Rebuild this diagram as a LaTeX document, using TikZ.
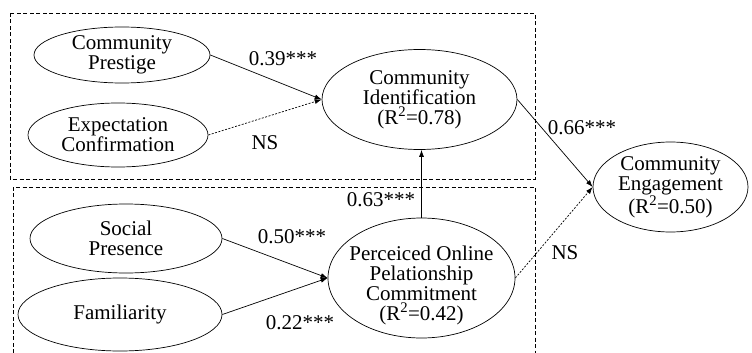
\documentclass[tikz,border=0pt]{standalone}
\usepackage{fontspec}
\setmainfont{Liberation Serif}
\usetikzlibrary{shapes.geometric}
\usetikzlibrary{arrows.meta}
\tikzset{
  construct/.style={draw, ellipse, line width=0.7pt, inner sep=0pt},
  caption/.style={align=center, inner sep=0pt, font=\fontsize{21}{20}\selectfont},
  effect/.style={line width=0.7pt, -{Latex[length=7pt,width=5pt]}},
  nseffect/.style={effect, dash pattern=on 2pt off 1.5pt},
  block/.style={line width=0.6pt, dash pattern=on 4pt off 2.5pt}
}
\newcommand{\latent}[6]{ \node[construct, minimum width=#4pt, minimum height=#5pt, label={[caption]center:{#6}}] (#1) at (#2,#3) {};}

\begin{document}
\begin{tikzpicture}[x=1pt, y=-1pt]
\useasboundingbox (0,0) rectangle (752,353);
%
\draw[block] (10,13) rectangle (535,179);
\draw[block] (13,353) -- (13,187) -- (535,187) -- (535,353);
%
\latent{cp}{122}{55}{176}{56}{Community\\Prestige}
\latent{ec}{118}{135}{180}{64}{Expectation\\Confirmation}
\latent{ci}{419.5}{99.5}{195}{100}{Community\\Identification\\(R\textsuperscript{2}=0.78)}
\latent{ce}{670.5}{187}{155}{90}{Community\\Engagement\\(R\textsuperscript{2}=0.50)}
\latent{sp}{126}{238.5}{192}{69}{Social\\Presence}
\latent{fam}{120}{314.5}{204}{73}{Familiarity}
\node[construct, minimum width=187pt, minimum height=120pt,
  label={[caption, yshift=-7pt]center:{Perceiced Online\\Pelationship\\Commitment\\(R\textsuperscript{2}=0.42)}}] (po) at (421.5,278) {};
%
\draw[effect] (cp.east) -- (ci.west);
\draw[nseffect] (ec.east) -- (ci.west);
\draw[effect] (sp.east) -- (po.west);
\draw[effect] (fam.east) -- (po.west);
\draw[effect] (po.north) -- (po.north |- ci.south);
\draw[effect] (ci.east) -- (ce.west);
\draw[nseffect] (po.east) -- (ce.west);
%
\node[caption] (c39) at (283,59) {0.39***};
\node[caption] (nsa) at (265,143) {NS};
\node[caption] (c66) at (582,128) {0.66***};
\node[caption] (c63) at (381,200) {0.63***};
\node[caption] (c50) at (292,237) {0.50***};
\node[caption] (c22) at (300,323) {0.22***};
\node[caption] (nsb) at (565,253) {NS};
\end{tikzpicture}
\end{document}
